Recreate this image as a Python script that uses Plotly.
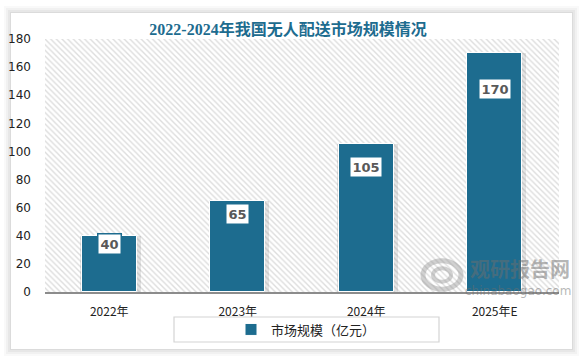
import plotly.graph_objects as go

categories = ["2022年", "2023年", "2024年", "2025年E"]
market_size = [40, 65, 105, 170]
series_name = "市场规模（亿元）"
title_text = "2022-2024年我国无人配送市场规模情况"
y_ticks = [0, 20, 40, 60, 80, 100, 120, 140, 160, 180]

Y_MAX = 180
BAR_COLOR = "#1D6C8F"

# plot area in pixels: x 45..559, y 39..292
L, R, T, B = 45, 24, 39, 70
W, H = 583, 362
pw, ph = W - L - R, H - T - B

def px_x(x):
    return (x - L) / pw

def px_y(y):
    return (H - B - y) / ph

fig = go.Figure()

# hatched plot background
fig.add_trace(go.Bar(
    x=categories, y=[Y_MAX] * len(categories), width=1,
    marker=dict(color="white", line=dict(width=0),
                pattern=dict(shape="\\", fgcolor="#bcbcbc", bgcolor="white",
                             size=4, solidity=0.35)),
    hoverinfo="skip", showlegend=False,
))

# soft bar shadow
fig.add_trace(go.Bar(
    x=categories, y=market_size, width=0.47, offset=-0.225,
    marker=dict(color="rgba(0,0,0,0.10)", line=dict(width=0)),
    hoverinfo="skip", showlegend=False,
))

fig.add_trace(go.Bar(
    x=categories, y=market_size, width=0.43, name=series_name,
    marker=dict(color=BAR_COLOR, line=dict(color="white", width=1)),
))

for c, v in zip(categories, market_size):
    fig.add_annotation(
        x=c, y=v * 0.85, text=f"<b>{v}</b>", showarrow=False,
        font=dict(size=13, color="#595959", family="DejaVu Sans"),
        bgcolor="white", bordercolor=BAR_COLOR, borderwidth=1.5, borderpad=2,
    )

# card with shadow
for i, a in enumerate([0.025, 0.03, 0.04, 0.05]):
    g = 7 - i * 2
    fig.add_shape(type="rect", xref="paper", yref="paper", layer="below",
                  x0=px_x(11 - g), x1=px_x(572 + g), y0=px_y(349 + g), y1=px_y(13 - g),
                  fillcolor=f"rgba(0,0,0,{a})", line=dict(width=0))
fig.add_shape(type="rect", xref="paper", yref="paper", layer="below",
              x0=px_x(11), x1=px_x(572), y0=px_y(349), y1=px_y(13),
              fillcolor="white", line=dict(width=0))

# legend box
fig.add_shape(type="rect", xref="paper", yref="paper",
              x0=px_x(174), x1=px_x(439), y0=px_y(342), y1=px_y(317),
              fillcolor="rgba(0,0,0,0)", line=dict(color="#d4d4d4", width=1.2))

# watermark logo (rings) and text
for r, w in [(19, 5), (9, 4)]:
    fig.add_shape(type="circle", xref="paper", yref="paper",
                  xsizemode="pixel", ysizemode="pixel",
                  xanchor=px_x(442), yanchor=px_y(275),
                  x0=-r, x1=r, y0=-r * 0.75, y1=r * 0.75,
                  line=dict(color="rgba(140,140,140,0.4)", width=w))
fig.add_annotation(xref="paper", yref="paper", x=px_x(520), y=px_y(268),
                   xanchor="center", yanchor="middle",
                   text="<b>观研报告网</b>", showarrow=False,
                   font=dict(size=20, color="rgba(110,110,110,0.5)",
                             family="Noto Sans CJK SC"))
fig.add_annotation(xref="paper", yref="paper", x=px_x(518), y=px_y(291),
                   xanchor="center", yanchor="middle",
                   text="chinabaogao.com", showarrow=False,
                   font=dict(size=12, color="rgba(110,110,110,0.5)",
                             family="DejaVu Sans"))

fig.update_layout(
    width=W, height=H,
    margin=dict(l=L, r=R, t=T, b=B, autoexpand=False),
    paper_bgcolor="white", plot_bgcolor="rgba(0,0,0,0)",
    barmode="overlay", bargap=0,
    title=dict(text=f"<b>{title_text}</b>", x=0.494, xanchor="center",
               y=1 - 29 / H, yanchor="middle",
               font=dict(size=16, color=BAR_COLOR,
                         family="Liberation Serif, Noto Sans CJK SC")),
    font=dict(family="Noto Sans CJK SC, DejaVu Sans", color="#222"),
    showlegend=True,
    legend=dict(orientation="h", x=px_x(306), xanchor="center",
                y=px_y(329.5), yanchor="middle",
                bgcolor="rgba(0,0,0,0)", borderwidth=0,
                font=dict(size=13, color="#222")),
    xaxis=dict(showgrid=False, showline=True, linecolor="#8c8c8c", linewidth=1.5,
               ticks="", ticklabelstandoff=8, tickfont=dict(size=12),
               range=[-0.5, 3.5], fixedrange=True, automargin=False),
    yaxis=dict(range=[0, Y_MAX], tickvals=y_ticks, showgrid=False, zeroline=False,
               showline=False, ticklabelstandoff=13,
               tickfont=dict(size=12, family="DejaVu Sans"), fixedrange=True,
               automargin=False),
)

fig.write_html("out.html", config={"displayModeBar": False},
               post_script="document.body.style.margin='0';document.body.style.overflow='hidden';")
